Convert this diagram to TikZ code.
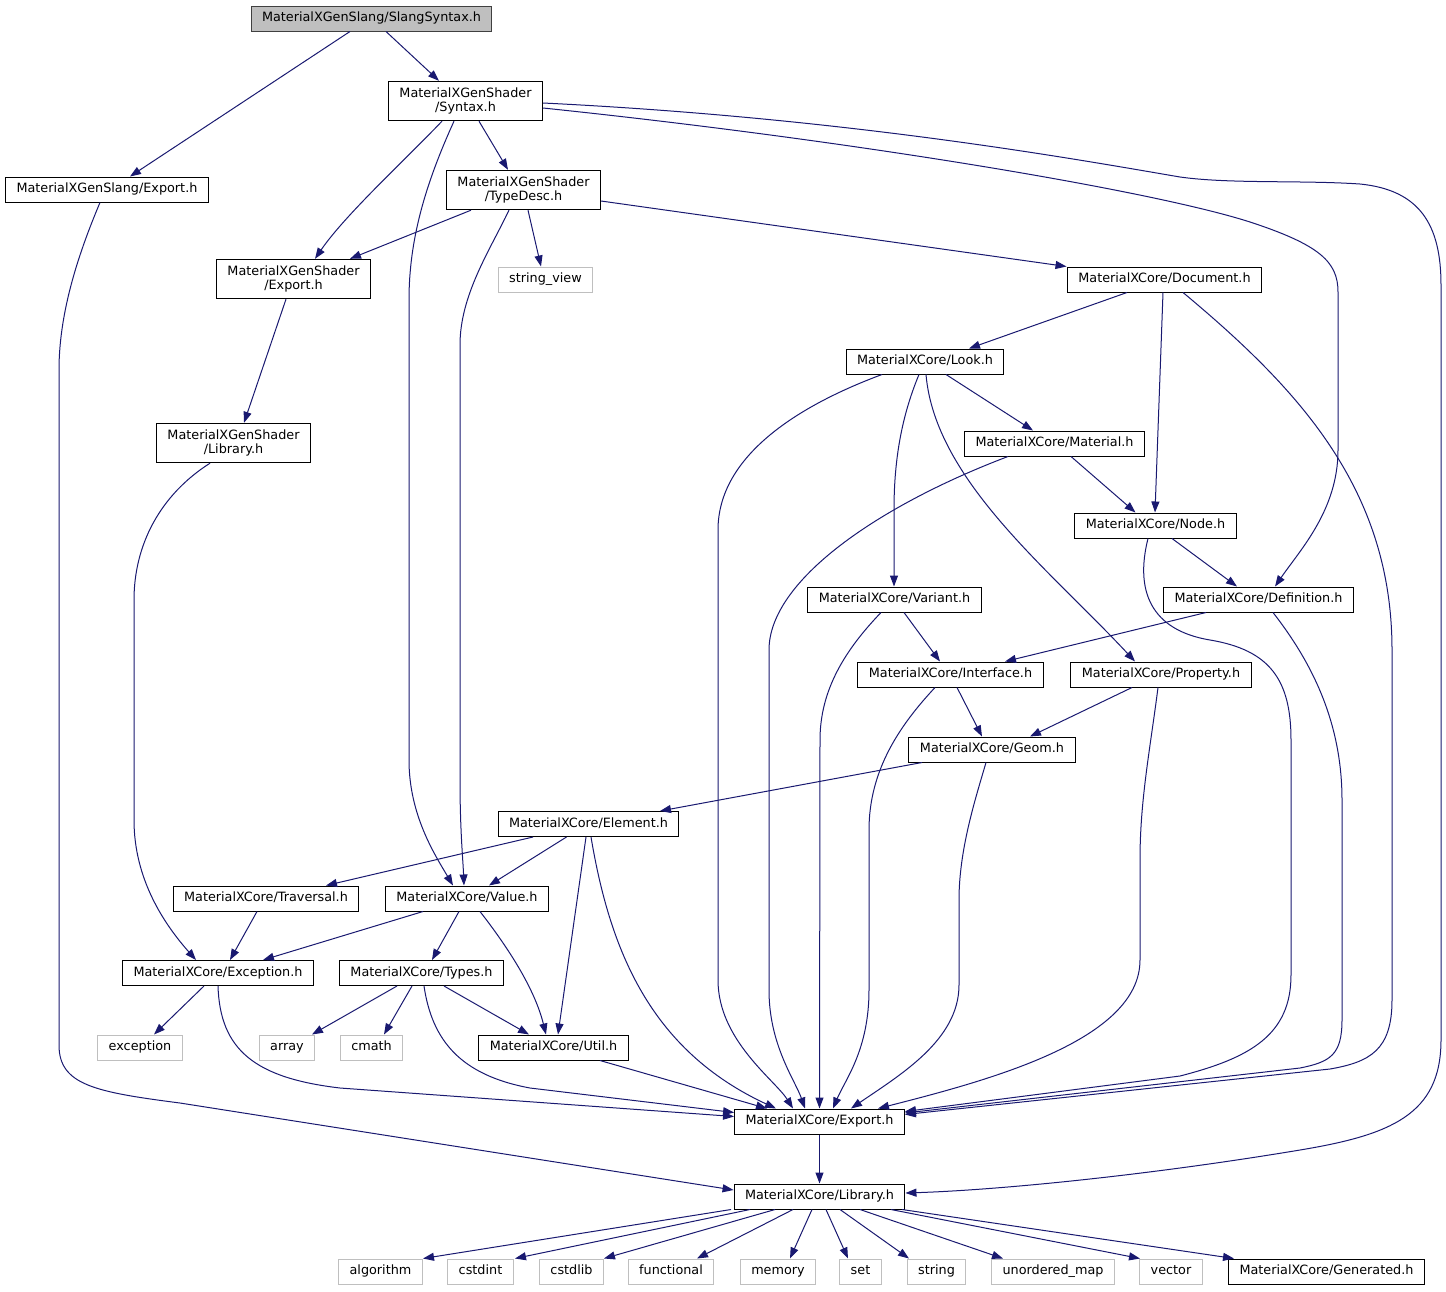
\documentclass[tikz,border=0pt]{standalone}
\usepackage{fontspec}
\setmainfont{DejaVu Sans}
\usepackage{tikz}
\usetikzlibrary{arrows.meta}

\definecolor{edgeblue}{HTML}{191970}
\definecolor{sysgray}{HTML}{BFBFBF}
\definecolor{rootgray}{HTML}{404040}
\newcommand{\graphfont}{\fontsize{12.8}{14}\selectfont}

\tikzset{
  hdr/.style={draw=black, fill=white, line width=1pt, inner xsep=11pt, font=\graphfont},
  onel/.style={hdr, inner ysep=6.25pt, text height=9.5pt, text depth=3pt},
  twol/.style={hdr, inner ysep=6.5pt, align=center},
  syshdr/.style={onel, draw=sysgray},
  roothdr/.style={onel, fill=sysgray, draw=rootgray},
  dep/.style={draw=edgeblue, line width=1pt, -{Triangle[length=11pt,width=8pt]}},
}

\begin{document}
\begin{tikzpicture}[x=1pt,y=-1pt]
\useasboundingbox (0,0) rectangle (1446,1291);

% headers, top to bottom
\node[roothdr] (slang) at (371.5,18.5) {MaterialXGenSlang/SlangSyntax.h};
\node[onel] (slangexp) at (107,189.5) {MaterialXGenSlang/Export.h};
\node[twol] (syntax) at (465.5,101) {MaterialXGenShader\\/Syntax.h};
\node[twol] (typedesc) at (523.5,190) {MaterialXGenShader\\/TypeDesc.h};
\node[twol] (shaderexp) at (293.5,279) {MaterialXGenShader\\/Export.h};
\node[syshdr] (strview) at (545.5,279.5) {string\_view};
\node[onel] (document) at (1164.5,279.5) {MaterialXCore/Document.h};
\node[onel] (look) at (925,361.5) {MaterialXCore/Look.h};
\node[twol] (shaderlib) at (233.5,443) {MaterialXGenShader\\/Library.h};
\node[onel] (material) at (1054.5,443.5) {MaterialXCore/Material.h};
\node[onel] (nodeh) at (1155.5,525.5) {MaterialXCore/Node.h};
\node[onel] (variant) at (894.5,599.5) {MaterialXCore/Variant.h};
\node[onel] (definition) at (1258.5,599.5) {MaterialXCore/Definition.h};
\node[onel] (interface) at (950.5,674.5) {MaterialXCore/Interface.h};
\node[onel] (property) at (1161,674.5) {MaterialXCore/Property.h};
\node[onel] (geom) at (992,749.5) {MaterialXCore/Geom.h};
\node[onel] (element) at (588.5,824) {MaterialXCore/Element.h};
\node[onel] (traversal) at (266,898.5) {MaterialXCore/Traversal.h};
\node[onel] (value) at (467,898.5) {MaterialXCore/Value.h};
\node[onel] (exceptionh) at (218,973) {MaterialXCore/Exception.h};
\node[onel] (types) at (421.5,973) {MaterialXCore/Types.h};
\node[syshdr] (stdexc) at (140,1047.5) {exception};
\node[syshdr] (arr) at (287,1047.5) {array};
\node[syshdr] (cmath) at (371.5,1047.5) {cmath};
\node[onel] (util) at (553.5,1047.5) {MaterialXCore/Util.h};
\node[onel] (coreexp) at (819.5,1121.5) {MaterialXCore/Export.h};
\node[onel] (corelib) at (819.5,1196.5) {MaterialXCore/Library.h};

% bottom row
\node[syshdr] (algo) at (380.5,1271.5) {algorithm};
\node[syshdr] (cstdint) at (480.5,1271.5) {cstdint};
\node[syshdr] (cstdlib) at (571.5,1271.5) {cstdlib};
\node[syshdr] (functional) at (671,1271.5) {functional};
\node[syshdr] (memory) at (778,1271.5) {memory};
\node[syshdr] (stdset) at (860.5,1271.5) {set};
\node[syshdr] (stdstring) at (936.5,1271.5) {string};
\node[syshdr] (umap) at (1053,1271.5) {unordered\_map};
\node[syshdr] (vector) at (1171,1271.5) {vector};
\node[onel] (generated) at (1326.5,1271.5) {MaterialXCore/Generated.h};

% from SlangSyntax.h
\draw[dep] ([xshift=-21.5pt]slang.south) -- ([xshift=23pt]slangexp.north);
\draw[dep] ([xshift=14.5pt]slang.south) -- ([xshift=-26.5pt]syntax.north);

% from GenSlang/Export.h
\draw[dep] ([xshift=-7pt]slangexp.south) .. controls (80,250) and (59,310) .. (59,370) -- (59,1045)
  .. controls (59,1085) and (95,1092) .. (180,1103) -- ([yshift=6.5pt]corelib.west);

% from Syntax.h
\draw[dep] ([xshift=13.5pt]syntax.south) -- ([xshift=-15.5pt]typedesc.north);
\draw[dep] ([xshift=-23.5pt]syntax.south) .. controls (405,160) and (345,215) .. ([xshift=21.5pt]shaderexp.north);
\draw[dep] ([xshift=-11.5pt]syntax.south) .. controls (425,185) and (409,240) .. (409,300) -- (409,760)
  .. controls (409,815) and (435,855) .. ([xshift=-14pt]value.north);
\draw[dep] ([yshift=-7pt]syntax.east) .. controls (850,140) and (1150,190) .. (1250,222)
  .. controls (1320,245) and (1338,262) .. (1338,292) -- (1338,450)
  .. controls (1338,510) and (1300,550) .. ([xshift=16.5pt]definition.north);
\draw[dep] ([yshift=-2pt]syntax.east) .. controls (850,118) and (1080,160) .. (1180,177)
  .. controls (1230,184) and (1300,180) .. (1360,184)
  .. controls (1420,190) and (1441,225) .. (1441,285) -- (1441,1040)
  .. controls (1441,1115) and (1390,1135) .. (1300,1150)
  .. controls (1150,1175) and (1000,1190) .. ([yshift=3.5pt]corelib.east);

% from TypeDesc.h
\draw[dep] ([xshift=-52.5pt]typedesc.south) -- ([xshift=56.5pt]shaderexp.north);
\draw[dep] ([xshift=-14.5pt]typedesc.south) .. controls (490,250) and (460,295) .. (460,345) -- (460,780)
  .. controls (460,830) and (463,860) .. ([xshift=-3pt]value.north);
\draw[dep] ([xshift=4.5pt]typedesc.south) -- ([xshift=-4.5pt]strview.north);
\draw[dep] ([yshift=-11pt]typedesc.east) -- ([xshift=-98pt]document.north);

% from GenShader/Export.h and GenShader/Library.h
\draw[dep] ([xshift=-7.5pt]shaderexp.south) -- ([xshift=10.5pt]shaderlib.north);
\draw[dep] ([xshift=-23.5pt]shaderlib.south) .. controls (160,495) and (134,545) .. (134,600) -- (134,820)
  .. controls (134,880) and (165,925) .. ([xshift=-22pt]exceptionh.north);

% from Document.h
\draw[dep] ([xshift=-37.5pt]document.south) -- ([xshift=44pt]look.north);
\draw[dep] ([xshift=-1.5pt]document.south) -- ([xshift=-0.5pt]nodeh.north);
\draw[dep] ([xshift=18.5pt]document.south) .. controls (1300,390) and (1392,490) .. (1392,650) -- (1392,1000)
  .. controls (1392,1050) and (1370,1062) .. (1330,1069) -- ([yshift=7pt]coreexp.east);

% from Look.h
\draw[dep] ([xshift=-43pt]look.south) .. controls (800,405) and (718,455) .. (718,530) -- (718,980)
  .. controls (718,1040) and (775,1080) .. ([xshift=-26.5pt]coreexp.north);
\draw[dep] ([xshift=-6pt]look.south) .. controls (900,420) and (894,465) .. (894,510) -- ([xshift=-0.5pt]variant.north);
\draw[dep] ([xshift=1pt]look.south) .. controls (935,480) and (1050,570) .. ([xshift=-26pt]property.north);
\draw[dep] ([xshift=21pt]look.south) -- ([xshift=-21.5pt]material.north);

% from Material.h
\draw[dep] ([xshift=-46.5pt]material.south) .. controls (880,505) and (769,580) .. (769,650) -- (769,990)
  .. controls (769,1045) and (795,1080) .. ([xshift=-14.5pt]coreexp.north);
\draw[dep] ([xshift=16.5pt]material.south) -- ([xshift=-20pt]nodeh.north);

% from Node.h
\draw[dep] ([xshift=16.5pt]nodeh.south) -- ([xshift=-21.5pt]definition.north);
\draw[dep] ([xshift=-7.5pt]nodeh.south) .. controls (1135,590) and (1150,630) .. (1210,640)
  .. controls (1270,650) and (1291,680) .. (1291,740) -- (1291,975)
  .. controls (1291,1035) and (1250,1058) .. (1180,1076) -- ([yshift=10pt]coreexp.east);

% from Variant.h
\draw[dep] ([xshift=9.5pt]variant.south) -- ([xshift=-10.5pt]interface.north);
\draw[dep] ([xshift=-13.5pt]variant.south) .. controls (845,650) and (820,690) .. (820,740) -- (coreexp.north);

% from Definition.h
\draw[dep] ([xshift=-52.5pt]definition.south) -- ([xshift=54.5pt]interface.north);
\draw[dep] ([xshift=14.5pt]definition.south) .. controls (1310,660) and (1342,720) .. (1342,800) -- (1342,1020)
  .. controls (1342,1055) and (1330,1062) .. (1300,1068) -- ([yshift=8.5pt]coreexp.east);

% from Interface.h
\draw[dep] ([xshift=6.5pt]interface.south) -- ([xshift=-10pt]geom.north);
\draw[dep] ([xshift=-15.5pt]interface.south) .. controls (900,725) and (869,770) .. (869,830) -- (869,990)
  .. controls (869,1050) and (845,1080) .. ([xshift=13.5pt]coreexp.north);

% from Property.h
\draw[dep] ([xshift=-29pt]property.south) -- ([xshift=38pt]geom.north);
\draw[dep] ([xshift=-3pt]property.south) .. controls (1150,750) and (1140,800) .. (1140,860) -- (1140,960)
  .. controls (1140,1040) and (990,1080) .. ([xshift=58.5pt]coreexp.north);

% from Geom.h
\draw[dep] ([xshift=-70pt]geom.south) -- ([xshift=71.5pt]element.north);
\draw[dep] ([xshift=-6pt]geom.south) .. controls (975,800) and (959,850) .. (959,900) -- (959,985)
  .. controls (959,1040) and (900,1075) .. ([xshift=31.5pt]coreexp.north);

% from Element.h
\draw[dep] ([xshift=-55.5pt]element.south) -- ([xshift=60pt]traversal.north);
\draw[dep] ([xshift=-22pt]element.south) -- ([xshift=22pt]value.north);
\draw[dep] ([xshift=-2.5pt]element.south) -- ([xshift=4.5pt]util.north);
\draw[dep] ([xshift=2.5pt]element.south) .. controls (610,950) and (650,1050) .. ([xshift=-43.5pt]coreexp.north);

% from Traversal.h and Value.h
\draw[dep] ([xshift=-9pt]traversal.south) -- ([xshift=12pt]exceptionh.north);
\draw[dep] ([xshift=-44pt]value.south) -- ([xshift=45pt]exceptionh.north);
\draw[dep] ([xshift=-8pt]value.south) -- ([xshift=10.5pt]types.north);
\draw[dep] ([xshift=13pt]value.south) .. controls (510,950) and (535,990) .. ([xshift=-7.5pt]util.north);

% from Exception.h
\draw[dep] ([xshift=-14pt]exceptionh.south) -- ([xshift=14pt]stdexc.north);
\draw[dep] (exceptionh.south) .. controls (220,1050) and (255,1078) .. (340,1088) -- ([yshift=5pt]coreexp.west);

% from Types.h
\draw[dep] ([xshift=-24.5pt]types.south) -- ([xshift=25pt]arr.north);
\draw[dep] ([xshift=-9.5pt]types.south) -- ([xshift=12.5pt]cmath.north);
\draw[dep] ([xshift=22.5pt]types.south) -- ([xshift=-24.5pt]util.north);
\draw[dep] ([xshift=2.5pt]types.south) .. controls (432,1040) and (460,1075) .. (530,1088) -- ([yshift=9pt]coreexp.west);

% from Util.h and Export.h
\draw[dep] ([xshift=46.5pt]util.south) -- ([xshift=-52.5pt]coreexp.north);
\draw[dep] (coreexp) -- (corelib);

% from Library.h to the bottom row
\draw[dep] ([xshift=-88.5pt]corelib.south) -- ([xshift=42.5pt]algo.north);
\draw[dep] ([xshift=-69.5pt]corelib.south) -- ([xshift=34.5pt]cstdint.north);
\draw[dep] ([xshift=-44.5pt]corelib.south) -- ([xshift=32.5pt]cstdlib.north);
\draw[dep] ([xshift=-26.5pt]corelib.south) -- ([xshift=26pt]functional.north);
\draw[dep] ([xshift=-7.5pt]corelib.south) -- ([xshift=12pt]memory.north);
\draw[dep] ([xshift=6.5pt]corelib.south) -- ([xshift=-12.5pt]stdset.north);
\draw[dep] ([xshift=20.5pt]corelib.south) -- ([xshift=-27.5pt]stdstring.north);
\draw[dep] ([xshift=40.5pt]corelib.south) -- ([xshift=-50pt]umap.north);
\draw[dep] ([xshift=71.5pt]corelib.south) -- ([xshift=-31pt]vector.north);
\draw[dep] ([xshift=82.5pt]corelib.south) -- ([xshift=-92.5pt]generated.north);
\end{tikzpicture}
\end{document}
